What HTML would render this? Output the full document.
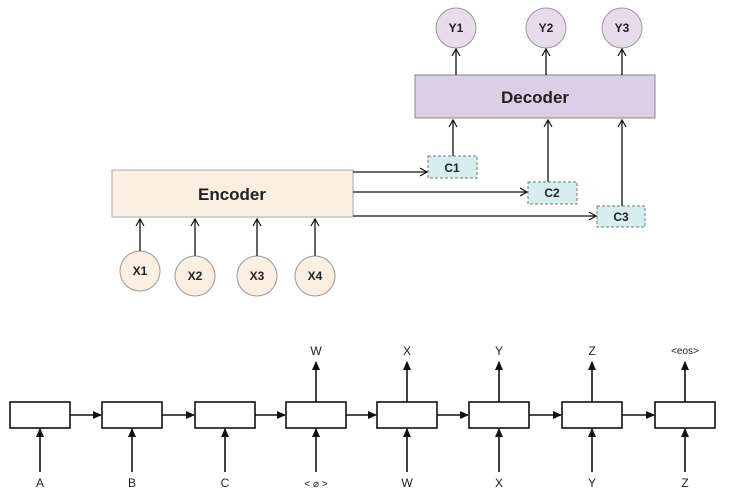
<!DOCTYPE html>
<html><head><meta charset="utf-8"><style>body{margin:0;background:#fff}</style></head><body>
<svg width="730" height="496" xmlns="http://www.w3.org/2000/svg" font-family="Liberation Sans, sans-serif">
<defs>
<marker id="o" markerWidth="10" markerHeight="10" refX="8" refY="5" orient="auto" markerUnits="userSpaceOnUse"><path d="M1,1 L8,5 L1,9" fill="none" stroke="#111" stroke-width="1.2"/></marker>
<marker id="f" markerWidth="10" markerHeight="10" refX="8" refY="5" orient="auto" markerUnits="userSpaceOnUse"><path d="M0,1 L9,5 L0,9 Z" fill="#111"/></marker>
</defs>
<g stroke="#999" stroke-width="1" fill="#e6dcec">
<circle cx="456" cy="28" r="20"/><circle cx="546" cy="28" r="20"/><circle cx="622" cy="28" r="20"/>
</g>
<g font-weight="bold" font-size="12" text-anchor="middle" fill="#222">
<text x="456" y="32">Y1</text><text x="546" y="32">Y2</text><text x="622" y="32">Y3</text>
</g>
<rect x="415" y="75" width="240" height="43" fill="#d9d0e6" stroke="#888"/>
<text x="535" y="103" font-weight="bold" font-size="17" text-anchor="middle" fill="#222">Decoder</text>
<rect x="112" y="170" width="241" height="47" fill="#fbeee2" stroke="#aaa"/>
<text x="232" y="200" font-weight="bold" font-size="17" text-anchor="middle" fill="#222">Encoder</text>
<g stroke="#999" fill="#fbeee2">
<circle cx="140" cy="271" r="20"/><circle cx="195" cy="276" r="20"/><circle cx="257" cy="276" r="20"/><circle cx="315" cy="276" r="20"/>
</g>
<g font-weight="bold" font-size="12" text-anchor="middle" fill="#222">
<text x="140" y="275">X1</text><text x="195" y="280">X2</text><text x="257" y="280">X3</text><text x="315" y="280">X4</text>
</g>
<g fill="#d6eeee" stroke="#777" stroke-dasharray="3,2">
<rect x="428" y="156" width="49" height="22"/><rect x="528" y="182" width="49" height="22"/><rect x="597" y="206" width="48" height="21"/>
</g>
<g font-weight="bold" font-size="12" text-anchor="middle" fill="#222">
<text x="452" y="172">C1</text><text x="552" y="197">C2</text><text x="621" y="221">C3</text>
</g>
<g stroke="#111" stroke-width="1.3" marker-end="url(#o)">
<line x1="456" y1="75" x2="456" y2="49"/><line x1="546" y1="75" x2="546" y2="49"/><line x1="622" y1="75" x2="622" y2="49"/>
<line x1="453" y1="156" x2="453" y2="120"/><line x1="548" y1="182" x2="548" y2="120"/><line x1="622" y1="206" x2="622" y2="120"/>
<line x1="353" y1="172" x2="427" y2="172"/><line x1="353" y1="192" x2="527" y2="192"/><line x1="353" y1="216" x2="596" y2="216"/>
<line x1="140" y1="251" x2="140" y2="219"/><line x1="195" y1="256" x2="195" y2="219"/><line x1="257" y1="256" x2="257" y2="219"/><line x1="315" y1="256" x2="315" y2="219"/>
</g>
<g fill="#fff" stroke="#111" stroke-width="1.6">
<rect x="10" y="402" width="60" height="26"/><rect x="102" y="402" width="60" height="26"/><rect x="195" y="402" width="60" height="26"/><rect x="286" y="402" width="60" height="26"/>
<rect x="377" y="402" width="60" height="26"/><rect x="469" y="402" width="60" height="26"/><rect x="562" y="402" width="60" height="26"/><rect x="655" y="402" width="60" height="26"/>
</g>
<g stroke="#111" stroke-width="1.6" marker-end="url(#f)">
<line x1="70" y1="415" x2="101" y2="415"/><line x1="162" y1="415" x2="194" y2="415"/><line x1="255" y1="415" x2="285" y2="415"/><line x1="346" y1="415" x2="376" y2="415"/>
<line x1="437" y1="415" x2="468" y2="415"/><line x1="529" y1="415" x2="561" y2="415"/><line x1="622" y1="415" x2="654" y2="415"/>
<line x1="40" y1="472" x2="40" y2="429"/><line x1="132" y1="472" x2="132" y2="429"/><line x1="225" y1="472" x2="225" y2="429"/><line x1="316" y1="472" x2="316" y2="429"/>
<line x1="407" y1="472" x2="407" y2="429"/><line x1="499" y1="472" x2="499" y2="429"/><line x1="592" y1="472" x2="592" y2="429"/><line x1="685" y1="472" x2="685" y2="429"/>
<line x1="316" y1="402" x2="316" y2="362"/><line x1="407" y1="402" x2="407" y2="362"/><line x1="499" y1="402" x2="499" y2="362"/><line x1="592" y1="402" x2="592" y2="362"/><line x1="685" y1="402" x2="685" y2="362"/>
</g>
<g font-size="12" text-anchor="middle" fill="#222">
<text x="40" y="487">A</text><text x="132" y="487">B</text><text x="225" y="487">C</text><text x="316" y="487" font-size="10">&lt; ⌀ &gt;</text>
<text x="407" y="487">W</text><text x="499" y="487">X</text><text x="592" y="487">Y</text><text x="685" y="487">Z</text>
<text x="316" y="355">W</text><text x="407" y="355">X</text><text x="499" y="355">Y</text><text x="592" y="355">Z</text><text x="685" y="354" font-size="10">&lt;eos&gt;</text>
</g>
</svg>
</body></html>
